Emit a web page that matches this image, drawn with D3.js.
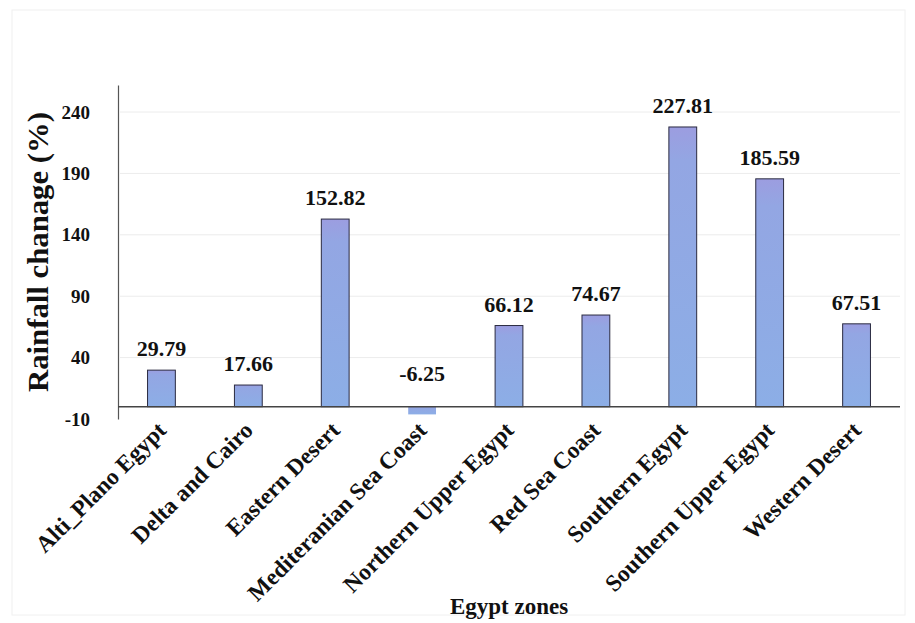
<!DOCTYPE html>
<html><head><meta charset="utf-8">
<script src="https://cdn.jsdelivr.net/npm/d3@7"></script>
<style>body{margin:0;background:#fff}</style>
</head><body>
<svg id="c" width="915" height="623"></svg>
<script>
const zones = ["Alti_Plano Egypt","Delta and Cairo","Eastern Desert","Mediteranian Sea Coast","Northern Upper Egypt","Red Sea Coast","Southern Egypt","Southern Upper Egypt","Western Desert"];
const changes = [29.79,17.66,152.82,-6.25,66.12,74.67,227.81,185.59,67.51];
const yTicks = [-10,40,90,140,190,240];

(function(){
const svg = d3.select("#c");
const serif = "'Liberation Serif','Times New Roman',serif";
const mL = 118, mR = 900, mT = 85, mB = 419;

svg.append("rect").attr("x",12).attr("y",10).attr("width",893).attr("height",605)
  .attr("fill","none").attr("stroke","#f0f0f0");

const defs = svg.append("defs");
const g = defs.append("linearGradient").attr("id","bg").attr("x1",0).attr("x2",0).attr("y1",0).attr("y2",1);
g.append("stop").attr("offset","0%").attr("stop-color","#9c9de0");
g.append("stop").attr("offset","12%").attr("stop-color","#93a6e3");
g.append("stop").attr("offset","100%").attr("stop-color","#8caee6");

const x = d3.scaleBand().domain(zones).range([mL,mR]).paddingInner(0.68).paddingOuter(0.34);
const y = d3.scaleLinear().domain([-10,262]).range([mB,mT]);

svg.append("g").selectAll("line").data(yTicks.filter(t=>t>0)).join("line")
  .attr("x1",mL+2).attr("x2",mR).attr("y1",d=>y(d)).attr("y2",d=>y(d))
  .attr("stroke","#ececec").attr("stroke-width",1);

svg.append("g").selectAll("rect").data(changes).join("rect")
  .attr("x",(d,i)=>x(zones[i]))
  .attr("width",x.bandwidth())
  .attr("y",d=>y(Math.max(0,d)))
  .attr("height",d=>Math.abs(y(d)-y(0)))
  .attr("fill","url(#bg)")
  .attr("stroke",(d)=>d<0?"none":"#2a2a40").attr("stroke-width",1);

const ya = svg.append("g").attr("transform",`translate(${mL},0)`)
  .call(d3.axisLeft(y).tickValues(yTicks).tickSize(0).tickPadding(28).tickFormat(d=>String(d)));
ya.select(".domain").attr("stroke","#555").attr("stroke-width",1.2);
ya.selectAll("text").attr("font-family",serif).attr("font-weight","bold").attr("font-size",19).attr("fill","#111");

svg.append("line").attr("x1",mL).attr("x2",mR).attr("y1",y(0)).attr("y2",y(0))
  .attr("stroke","#444").attr("stroke-width",1.5);

svg.append("g").selectAll("text").data(changes).join("text")
  .attr("x",(d,i)=>x(zones[i])+x.bandwidth()/2)
  .attr("y",d=>d<0?y(0)-26:y(d)-14)
  .attr("text-anchor","middle")
  .attr("font-family",serif).attr("font-weight","bold").attr("font-size",22).attr("fill","#111")
  .text(d=>d.toFixed(2));

svg.append("g").selectAll("text").data(zones).join("text")
  .attr("transform",d=>`translate(${x(d)+x.bandwidth()/2+6},${y(0)+25}) rotate(-45)`)
  .attr("text-anchor","end")
  .attr("font-family",serif).attr("font-weight","bold").attr("font-size",23.5).attr("fill","#111")
  .text(d=>d);

svg.append("text").attr("x",509).attr("y",614).attr("text-anchor","middle")
  .attr("font-family",serif).attr("font-weight","bold").attr("font-size",23).attr("fill","#111")
  .text("Egypt zones");
svg.append("text").attr("transform","translate(48,252) rotate(-90)").attr("text-anchor","middle")
  .attr("font-family",serif).attr("font-weight","bold").attr("font-size",29)
  .attr("textLength",280).attr("lengthAdjust","spacingAndGlyphs").attr("fill","#111")
  .text("Rainfall chanage (%)");
})();
</script>
</body></html>
